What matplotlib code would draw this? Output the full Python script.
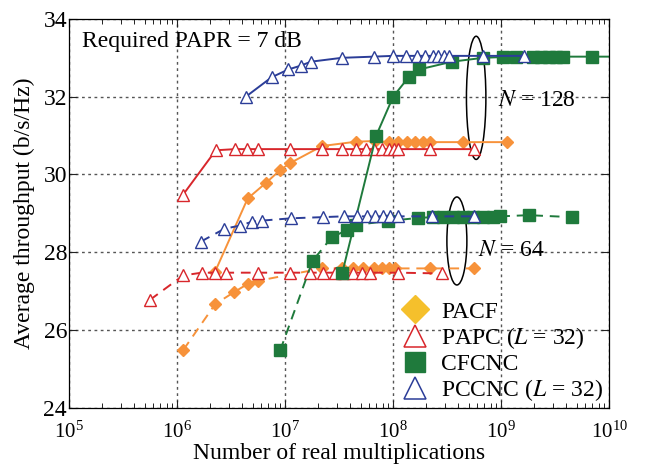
import matplotlib
matplotlib.use("Agg")
import matplotlib.pyplot as plt
from matplotlib.lines import Line2D
from matplotlib.patches import Ellipse
from matplotlib.ticker import LogLocator, LogFormatterMathtext, NullFormatter

plt.rcParams['font.family'] = ['Liberation Serif', 'DejaVu Serif']
plt.rcParams['mathtext.fontset'] = 'stix'

# ---- data ----
pacf128_x = [2.25e6, 4.5e6, 6.7e6, 8.9e6, 1.11e7, 2.2e7, 4.5e7, 6.8e7, 9.06e7,
             1.12e8, 1.34e8, 1.6e8, 1.88e8, 2.2e8, 4.47e8, 1.13e9]
pacf128_y = [27.5, 29.38, 29.79, 30.1, 30.29, 30.73, 30.84, 30.86, 30.83,
             30.83, 30.83, 30.83, 30.83, 30.83, 30.83, 30.83]
pacf64_x = [1.14e6, 2.25e6, 3.37e6, 4.5e6, 5.6e6, 2.19e7, 3.35e7, 4.29e7, 5.3e7,
            6.6e7, 7.86e7, 9.06e7, 1.04e8, 2.2e8, 5.55e8]
pacf64_y = [25.48, 26.66, 26.97, 27.18, 27.26, 27.58, 27.58, 27.58, 27.58,
            27.58, 27.58, 27.58, 27.58, 27.58, 27.58]

papc128_x = [1.13e6, 2.28e6, 3.44e6, 4.48e6, 5.58e6, 1.11e7, 2.21e7, 3.35e7, 4.54e7,
             5.62e7, 6.7e7, 7.86e7, 9.06e7, 1.02e8, 1.12e8, 2.2e8, 5.55e8]
papc128_y = [29.47, 30.62, 30.65, 30.65, 30.65, 30.65, 30.65, 30.65, 30.65,
             30.65, 30.65, 30.65, 30.65, 30.65, 30.65, 30.65, 30.65]
papc64_x = [5.6e5, 1.14e6, 1.69e6, 2.25e6, 2.84e6, 5.66e6, 1.11e7, 1.7e7, 2.26e7,
            2.9e7, 3.47e7, 4.27e7, 5.17e7, 6.13e7, 1.12e8, 2.82e8]
papc64_y = [26.77, 27.4, 27.47, 27.47, 27.47, 27.47, 27.47, 27.47, 27.47,
            27.47, 27.47, 27.47, 27.47, 27.47, 27.47, 27.45]

cfcnc128_x = [3.37e7, 6.97e7, 1.0e8, 1.39e8, 1.74e8, 3.5e8, 6.8e8, 1.04e9, 1.38e9,
              1.98e9, 2.34e9, 2.78e9, 3.23e9, 3.75e9, 6.92e9, 1.4e10]
cfcnc128_y = [27.45, 31.0, 32.0, 32.5, 32.7, 32.9, 33.0, 33.02, 33.02,
              33.03, 33.03, 33.03, 33.03, 33.03, 33.03, 33.03]
cfcnc64_x = [9.0e6, 1.8e7, 2.7e7, 3.75e7, 4.54e7, 9.0e7, 1.71e8, 2.35e8, 2.9e8,
             3.6e8, 4.45e8, 5.5e8, 6.8e8, 8.4e8, 9.8e8, 1.8e9, 4.5e9]
cfcnc64_y = [25.47, 27.78, 28.38, 28.57, 28.7, 28.8, 28.88, 28.9, 28.9,
             28.9, 28.9, 28.9, 28.9, 28.9, 28.92, 28.95, 28.9]

pccnc128_x = [4.33e6, 7.5e6, 1.07e7, 1.4e7, 1.73e7, 3.35e7, 6.58e7, 9.9e7, 1.32e8,
              1.66e8, 1.98e8, 2.33e8, 2.62e8, 2.96e8, 3.3e8, 6.8e8, 1.63e9]
pccnc128_y = [32.0, 32.5, 32.7, 32.8, 32.9, 33.0, 33.03, 33.05, 33.05,
              33.05, 33.05, 33.05, 33.05, 33.05, 33.05, 33.05, 33.05]
pccnc64_x = [1.66e6, 2.74e6, 3.78e6, 4.92e6, 6.08e6, 1.14e7, 2.26e7, 3.47e7, 4.61e7,
             5.71e7, 6.81e7, 8.13e7, 9.38e7, 1.12e8, 2.28e8, 5.62e8]
pccnc64_y = [28.27, 28.6, 28.68, 28.78, 28.81, 28.87, 28.9, 28.92, 28.92,
             28.92, 28.92, 28.92, 28.92, 28.92, 28.92, 28.92]

ORANGE = '#f7923a'
YELLOW = '#f5c02c'
RED = '#d8262b'
GREEN = '#1f7a3c'
BLUE = '#2b3d98'
DASH = (0, (5, 3.5))


def plot_curves(ax):
    """Draw the N=64 (dashed) and N=128 (solid) curves of all four schemes."""
    tri = dict(marker='^', ms=9, mfc='white', mew=1.0)
    ax.plot(pacf128_x, pacf128_y, color=ORANGE, lw=1.4, marker='D', ms=6.5)
    ax.plot(pacf64_x, pacf64_y, color=ORANGE, lw=1.4, ls=DASH, marker='D', ms=6.5)
    ax.plot(papc128_x, papc128_y, color=RED, lw=1.4, mec=RED, **tri)
    ax.plot(papc64_x, papc64_y, color=RED, lw=1.4, ls=DASH, mec=RED, **tri)
    ax.plot(cfcnc128_x, cfcnc128_y, color=GREEN, lw=1.4, marker='s', ms=9)
    ax.plot(cfcnc64_x, cfcnc64_y, color=GREEN, lw=1.4, ls=DASH, marker='s', ms=9)
    ax.plot(pccnc128_x, pccnc128_y, color=BLUE, lw=1.4, mec=BLUE, **tri)
    ax.plot(pccnc64_x, pccnc64_y, color=BLUE, lw=1.4, ls=DASH, mec=BLUE, **tri)


def style_axes(ax):
    ax.set_xscale('log')
    ax.set_xlim(1e5, 1e10)
    ax.set_ylim(24, 34)
    ax.set_yticks([24, 26, 28, 30, 32, 34])
    ax.xaxis.set_major_locator(LogLocator(base=10, numticks=10))
    ax.xaxis.set_major_formatter(LogFormatterMathtext())
    ax.xaxis.set_minor_locator(LogLocator(base=10, subs=range(2, 10), numticks=20))
    ax.xaxis.set_minor_formatter(NullFormatter())
    ax.tick_params(which='both', direction='in', top=True, right=True,
                   color='#222222')
    ax.tick_params(which='major', length=6, width=0.8)
    ax.tick_params(which='minor', length=3.5, width=0.7)
    ax.tick_params(axis='x', which='major', labelsize=15, pad=10)
    ax.tick_params(axis='y', which='major', labelsize=17, pad=1.5)
    ax.grid(True, which='major', ls=(0, (2, 2.5)), color='#555555', lw=1.0)
    for s in ax.spines.values():
        s.set_linewidth(0.9)
    ax.set_xlabel('Number of real multiplications', fontsize=17, labelpad=0)
    ax.set_ylabel('Average throughput (b/s/Hz)', fontsize=17, labelpad=6)


def annotate(ax):
    ax.text(0.024, 0.941, 'Required PAPR = 7 dB', transform=ax.transAxes,
            fontsize=17, va='center', ha='left')
    ax.add_patch(Ellipse((0.7537, 0.797), 0.036, 0.317, transform=ax.transAxes,
                         fill=False, lw=1.1, color='black'))
    ax.add_patch(Ellipse((0.718, 0.4286), 0.037, 0.2265, transform=ax.transAxes,
                         fill=False, lw=1.1, color='black'))
    ax.text(0.794, 0.791, '$N$ = 128', transform=ax.transAxes, fontsize=17,
            va='center', ha='left')
    ax.text(0.757, 0.405, '$N$ = 64', transform=ax.transAxes, fontsize=17,
            va='center', ha='left')

    handles = [
        Line2D([], [], ls='none', marker='D', ms=14, color=YELLOW),
        Line2D([], [], ls='none', marker='^', ms=16, mfc='white', mec=RED, mew=1.1),
        Line2D([], [], ls='none', marker='s', ms=15, color=GREEN),
        Line2D([], [], ls='none', marker='^', ms=16, mfc='white', mec=BLUE, mew=1.1),
    ]
    labels = ['PACF', 'PAPC ($L$ = 32)', 'CFCNC', 'PCCNC ($L$ = 32)']
    ax.legend(handles, labels, loc='upper left', bbox_to_anchor=(0.588, 0.31),
              frameon=False, fontsize=17, handlelength=1.2, handletextpad=0.5,
              labelspacing=0.1, borderpad=0.1)


def main():
    fig = plt.figure(figsize=(6.46, 4.67), dpi=100)
    ax = fig.add_axes([0.107, 0.1274, 0.836, 0.832])
    plot_curves(ax)
    style_axes(ax)
    annotate(ax)
    fig.savefig('out.png', dpi=100)


if __name__ == '__main__':
    main()
